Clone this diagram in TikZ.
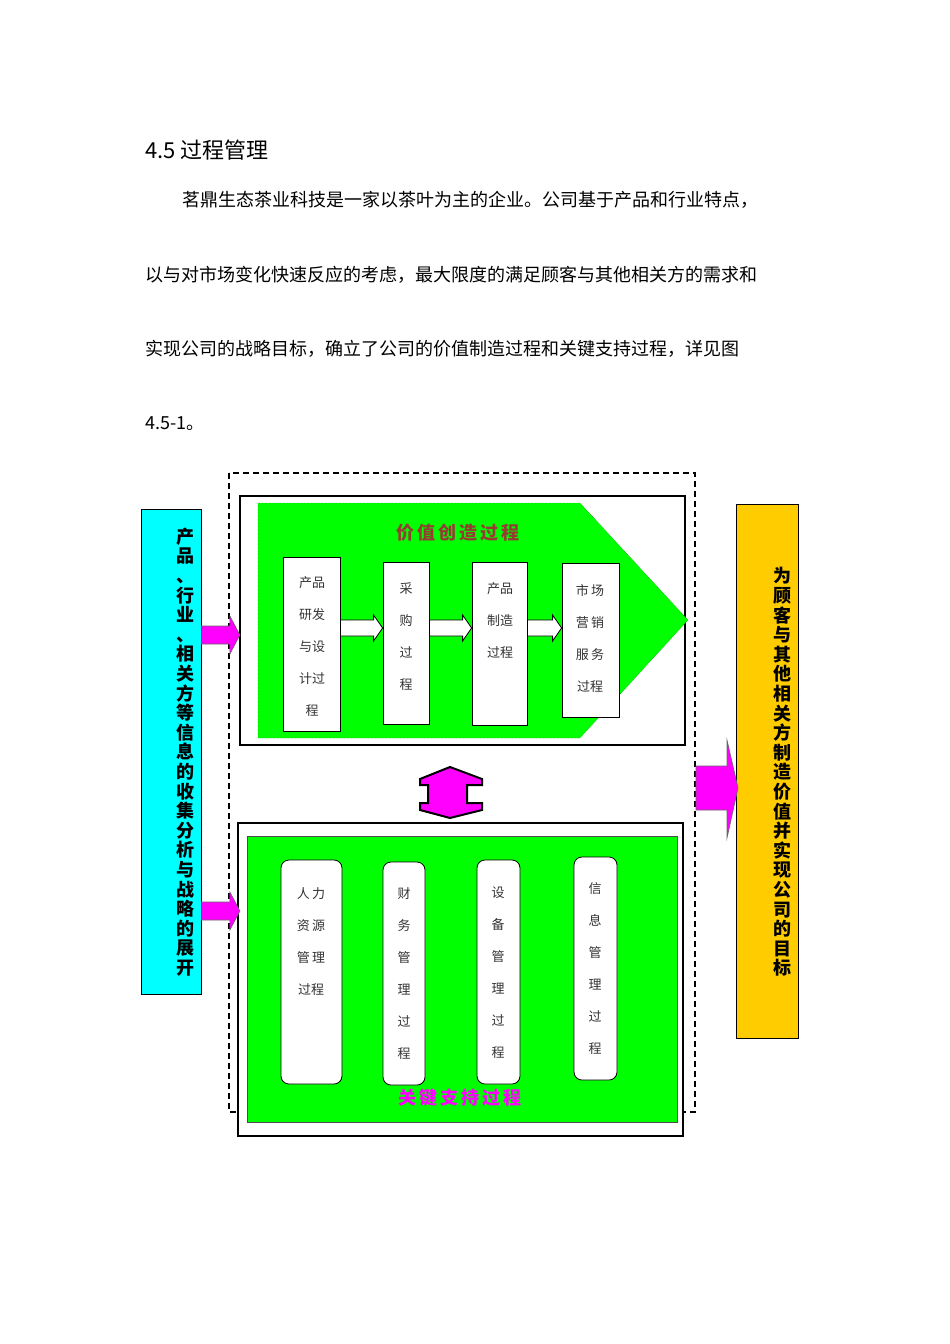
\documentclass[tikz,border=0pt]{standalone}
\usepackage{fontspec}
\setmainfont{DejaVu Sans}
\newfontfamily\cjk{Noto Sans CJK SC}
\usetikzlibrary{calc}
\definecolor{gr}{RGB}{0,255,0}
\definecolor{mag}{RGB}{255,0,255}
\definecolor{cy}{RGB}{0,255,255}
\definecolor{org}{RGB}{255,204,0}
\definecolor{brn}{RGB}{150,60,50}
\tikzset{
 body/.style={anchor=base west,inner sep=0,font=\cjk\fontsize{18}{18}\selectfont},
 pbox/.style={draw,fill=white,line width=0.8pt,inner sep=0},
 rbox/.style={draw,fill=white,line width=0.8pt,rounded corners=8pt,inner sep=0},
 btxt/.style={align=center,inner sep=0,font=\cjk\fontsize{13}{32}\selectfont,text=black!80},
 vtxt/.style={align=center,inner sep=0,font=\cjk\bfseries\fontsize{18}{19.6}\selectfont},
 warrow/.style={draw,fill=white,line width=0.8pt},
 marrow/.style={draw=black!60,fill=mag,line width=0.6pt}
}
\begin{document}
\begin{tikzpicture}[x=1pt,y=-1pt]
\useasboundingbox (0,0) rectangle (950,1344);
% text
\node[body,font=\cjk\fontsize{22}{22}\selectfont] (h) at (145,158) {4.5 过程管理};
\node[body] (p1) at (182,206) {茗鼎生态茶业科技是一家以茶叶为主的企业。公司基于产品和行业特点，};
\node[body] (p2) at (145,281) {以与对市场变化快速反应的考虑，最大限度的满足顾客与其他相关方的需求和};
\node[body] (p3) at (145,355) {实现公司的战略目标，确立了公司的价值制造过程和关键支持过程，详见图};
\node[body] (p4) at (145,429) {4.5-1。};
% dashed frame
\draw[dashed,line width=1.2pt,dash pattern=on 6pt off 4pt] (229,473) rectangle (695,1112);
% top box
\node[draw,fill=white,line width=2.2pt,minimum width=445,minimum height=249,inner sep=0] (top) at (462.5,620.5) {};
\draw[draw=green!40!black,densely dotted,fill=gr] (258,503) -- (580,503) -- (688,620) -- (580,738) -- (258,738) -- cycle;
\node[font=\cjk\bfseries\fontsize{18}{18}\selectfont,text=brn] (vt) at (458,533) {价\,值\,创\,造\,过\,程};
\node[pbox,minimum width=57,minimum height=174] (b1) at (311.5,644) {};
\node[btxt] (t1) at (312,647) {产品\\研发\\与设\\计过\\程};
\node[pbox,minimum width=46,minimum height=162] (b2) at (406,643) {};
\node[btxt] (t2) at (406,637) {采\\购\\过\\程};
\node[pbox,minimum width=55,minimum height=163] (b3) at (499.5,643.5) {};
\node[btxt] (t3) at (500,621) {产品\\制造\\过程};
\node[pbox,minimum width=57,minimum height=154] (b4) at (590.5,640) {};
\node[btxt] (t4) at (590,638) {市\,场\\营\,销\\服\,务\\过程};
\foreach \a/\b in {b1/b2,b2/b3,b3/b4}{
 \draw[warrow] ($(\a.east|-0,620)$) -- ($(\b.west|-0,620)+(-9,0)$) -- ($(\b.west|-0,615)+(-9,0)$) -- ($(\b.west|-0,628)$) -- ($(\b.west|-0,641)+(-9,0)$) -- ($(\b.west|-0,636)+(-9,0)$) -- ($(\a.east|-0,636)$) -- cycle;
}
% bottom box
\node[draw,fill=white,line width=2.2pt,minimum width=445,minimum height=313,inner sep=0] (bot) at (460.5,979.5) {};
\node[draw=black!70,fill=gr,line width=0.8pt,minimum width=430,minimum height=286,inner sep=0] (bg) at (462,979) {};
\node[rbox,minimum width=61,minimum height=224] (r1) at (311.5,972) {};
\node[btxt] (s1) at (311,942) {人\,力\\资\,源\\管\,理\\过程};
\node[rbox,minimum width=42,minimum height=223] (r2) at (404,973.5) {};
\node[btxt] (s2) at (404,974) {财\\务\\管\\理\\过\\程};
\node[rbox,minimum width=43,minimum height=224] (r3) at (498.5,972) {};
\node[btxt] (s3) at (498,973) {设\\备\\管\\理\\过\\程};
\node[rbox,minimum width=43,minimum height=223] (r4) at (595.5,968.5) {};
\node[btxt] (s4) at (595,969) {信\\息\\管\\理\\过\\程};
\node[font=\cjk\bfseries\fontsize{18}{18}\selectfont,text=mag] (kt) at (460,1098) {关\,键\,支\,持\,过\,程};
% double arrow
\draw[fill=mag,line width=2pt,line join=miter] (450,767) -- (482,779) -- (482,785) -- (467,785) -- (467,803) -- (482,803) -- (482,810) -- (450,818) -- (420,810) -- (420,803) -- (428,803) -- (428,785) -- (420,785) -- (420,779) -- cycle;
% left box
\node[draw,fill=cy,line width=0.8pt,minimum width=60,minimum height=485,inner sep=0] (lb) at (171,751.5) {};
\node[vtxt] (lt) at (185,752) {产\\品\\、\\行\\业\\、\\相\\关\\方\\等\\信\\息\\的\\收\\集\\分\\析\\与\\战\\略\\的\\展\\开};
% right box
\node[draw,fill=org,line width=0.8pt,minimum width=62,minimum height=534,inner sep=0] (rb) at (767,771) {};
\node[vtxt] (rt) at (782,772) {为\\顾\\客\\与\\其\\他\\相\\关\\方\\制\\造\\价\\值\\并\\实\\现\\公\\司\\的\\目\\标};
% magenta arrows
\foreach \y in {635,911}{
 \draw[marrow] ($(lb.east|-0,\y)+(0,-9)$) -- ($(top.west|-0,\y)+(-9,-9)$) -- ($(top.west|-0,\y)+(-9,-19)$) -- ($(top.west|-0,\y)+(1,0)$) -- ($(top.west|-0,\y)+(-9,19)$) -- ($(top.west|-0,\y)+(-9,9)$) -- ($(lb.east|-0,\y)+(0,9)$) -- cycle;
}
\draw[marrow] (696,766) -- (727,766) -- (727,740) -- (738,788) -- (727,838) -- (727,810) -- (696,810) -- cycle;
\end{tikzpicture}
\end{document}
